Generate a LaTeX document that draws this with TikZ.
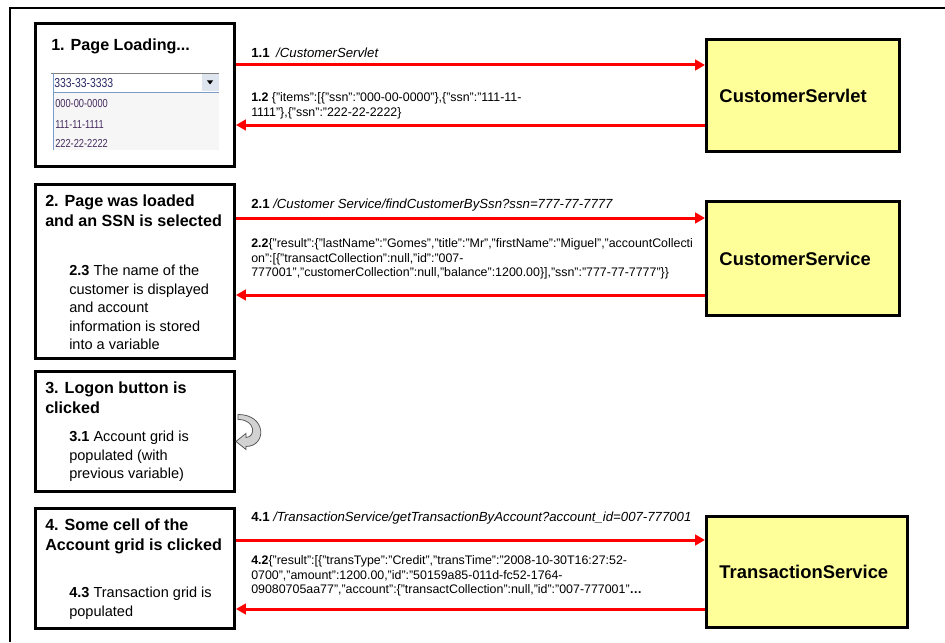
\documentclass[tikz,border=0pt]{standalone}
\usepackage{fontspec}
\setmainfont{Liberation Sans}
\newfontfamily\narrowfont[FakeStretch=0.8]{Liberation Sans}
\usetikzlibrary{arrows.meta,positioning,calc}
\definecolor{svcyellow}{RGB}{255,255,153}
\definecolor{msgred}{RGB}{255,0,0}
\definecolor{combotext}{RGB}{40,40,100}
\definecolor{itemtext}{RGB}{70,45,95}
\definecolor{combobtn}{RGB}{222,229,238}
\definecolor{comboline}{RGB}{125,155,200}

\begin{document}
\begin{tikzpicture}[x=0.75pt, y=-0.75pt,
    pagebox/.style={draw, line width=2.2pt, fill=white, anchor=north west, inner sep=0pt},
    svcbox/.style={draw, line width=2.2pt, fill=svcyellow, anchor=north west, inner xsep=9.75pt, inner ysep=0pt, align=left, font=\fontsize{13.8}{16}\selectfont\bfseries},
    steptitle/.style={anchor=north west, inner sep=0pt, align=left, font=\fontsize{12.1}{15}\selectfont\bfseries},
    stepnote/.style={anchor=north west, inner sep=0pt, align=left, font=\fontsize{10.9}{13.9}\selectfont},
    msg/.style={anchor=north west, inner sep=0pt, align=left, font=\fontsize{9.9}{11.25}\selectfont},
    reply/.style={anchor=north west, inner sep=0pt, align=left, font=\fontsize{9.3}{11.1}\selectfont},
    combotxt/.style={anchor=west, inner sep=0pt, text=combotext, font=\narrowfont\fontsize{9.75}{10}\selectfont},
    itemtxt/.style={anchor=west, inner sep=0pt, text=itemtext, font=\narrowfont\fontsize{8.7}{10}\selectfont},
    flow/.style={draw=msgred, line width=2.25pt, -{Triangle[length=7.5pt,width=8pt]}}]
    \useasboundingbox (0,0) rectangle (945,642);

    % frame
    \draw[line width=0.8pt] (10,642) -- (10,8) -- (945,8);

    % page steps (left)
    \node[pagebox, minimum width=149.25pt, minimum height=107.25pt] (pg1) at (34,22) {};
    \node[pagebox, minimum width=149.25pt, minimum height=130.5pt] (pg2) at (34,183) {};
    \node[pagebox, minimum width=149.25pt, minimum height=90pt] (pg3) at (34,370) {};
    \node[pagebox, minimum width=149.25pt, minimum height=90pt] (pg4) at (34,507) {};

    % services (right)
    \node[svcbox, minimum width=144.75pt, minimum height=84pt, text width=125.25pt] (servlet) at (705,38) {CustomerServlet};
    \node[svcbox, minimum width=144.75pt, minimum height=85.5pt, text width=125.25pt] (service) at (705,200) {CustomerService};
    \node[svcbox, minimum width=150.75pt, minimum height=83.25pt, text width=131.25pt] (trans) at (705,515) {TransactionService};

    % step 1 with the ssn combo
    \node[steptitle, anchor=west] (t1) at (51,46) {1. Page Loading...};
    \fill[gray!7] (53,92) rectangle (219,150);
    \fill[white] (53,73) rectangle (219,92);
    \fill[combobtn] (202,74) rectangle (219,91);
    \fill (207,80.5) -- (213,80.5) -- (210,84.5) -- cycle;
    \draw[gray, line width=0.5pt] (51,73) -- (219,73);
    \draw[comboline, line width=0.6pt] (53,73) -- (53,150);
    \draw[comboline, line width=0.6pt] (53,92) -- (219,92);
    \node[combotxt] (sel) at (54,83) {333-33-3333};
    \node[itemtxt] (opt0) at (55,103.5) {000-00-0000};
    \node[itemtxt] (opt1) at (55,125) {111-11-1111};
    \node[itemtxt] (opt2) at (55,143.5) {222-22-2222};

    % steps 2-4 text
    \node[steptitle] (t2) at (45,195) {2. Page was loaded\\and an SSN is selected};
    \node[stepnote] (n2) at (69,265) {\textbf{2.3} The name of the\\customer is displayed\\and account\\information is stored\\into a variable};
    \node[steptitle] (t3) at (45,382) {3. Logon button is\\clicked};
    \node[stepnote] (n3) at (69,431) {\textbf{3.1} Account grid is\\populated (with\\previous variable)};
    \node[steptitle] (t4) at (45,519) {4. Some cell of the\\Account grid is clicked};
    \node[stepnote] (n4) at (69,587) {\textbf{4.3} Transaction grid is\\populated};

    % messages
    \node[msg, anchor=west] (m11) at (251,53) {\textbf{1.1}\hspace{0.5em}\textit{/CustomerServlet}};
    \node[reply] (m12) at (251,92) {\textbf{1.2} \{"items":[\{"ssn":"000-00-0000"\},\{"ssn":"111-11-\\1111"\},\{"ssn":"222-22-2222\}};
    \node[msg, anchor=west] (m21) at (251,205) {\textbf{2.1} \textit{/Customer Service/findCustomerBySsn?ssn=777-77-7777}};
    \node[reply] (m22) at (251,238) {\textbf{2.2}\{"result":\{"lastName":"Gomes","title":"Mr","firstName":"Miguel","accountCollecti\\on":[\{"transactCollection":null,"id":"007-\\777001","customerCollection":null,"balance":1200.00\}],"ssn":"777-77-7777"\}\}};
    \node[msg, anchor=west] (m41) at (251,518) {\textbf{4.1} \textit{/TransactionService/getTransactionByAccount?account\_id=007-777001}};
    \node[reply] (m42) at (251,555) {\textbf{4.2}\{"result":[\{"transType":"Credit","transTime":"2008-10-30T16:27:52-\\0700","amount":1200.00,"id":"50159a85-011d-fc52-1764-\\09080705aa77","account":\{"transactCollection":null,"id":"007-777001"\textbf{\ldots}};

    % request / response arrows
    \coordinate (r11) at (0,65);
    \coordinate (r12) at (0,125);
    \coordinate (r21) at (0,218);
    \coordinate (r22) at (0,295);
    \coordinate (r41) at (0,540);
    \coordinate (r42) at (0,609);
    \draw[flow] (pg1.east |- r11) -- (servlet.west |- r11);
    \draw[flow] (servlet.west |- r12) -- (pg1.east |- r12);
    \draw[flow] (pg2.east |- r21) -- (service.west |- r21);
    \draw[flow] (service.west |- r22) -- (pg2.east |- r22);
    \draw[flow] (pg4.east |- r41) -- (trans.west |- r41);
    \draw[flow] (trans.west |- r42) -- (pg4.east |- r42);

    % self loop on step 3
    \begin{scope}[shift={(pg3.east)}]
      \filldraw[fill=gray!35, draw=black!65, line width=0.6pt]
        (2,-17) .. controls (31,-17) and (31,15) .. (10,15) -- (10,18) -- (0,10) -- (10,2) -- (10,6)
        .. controls (20,6) and (20,-12) .. (2,-12) -- cycle;
    \end{scope}
\end{tikzpicture}
\end{document}
